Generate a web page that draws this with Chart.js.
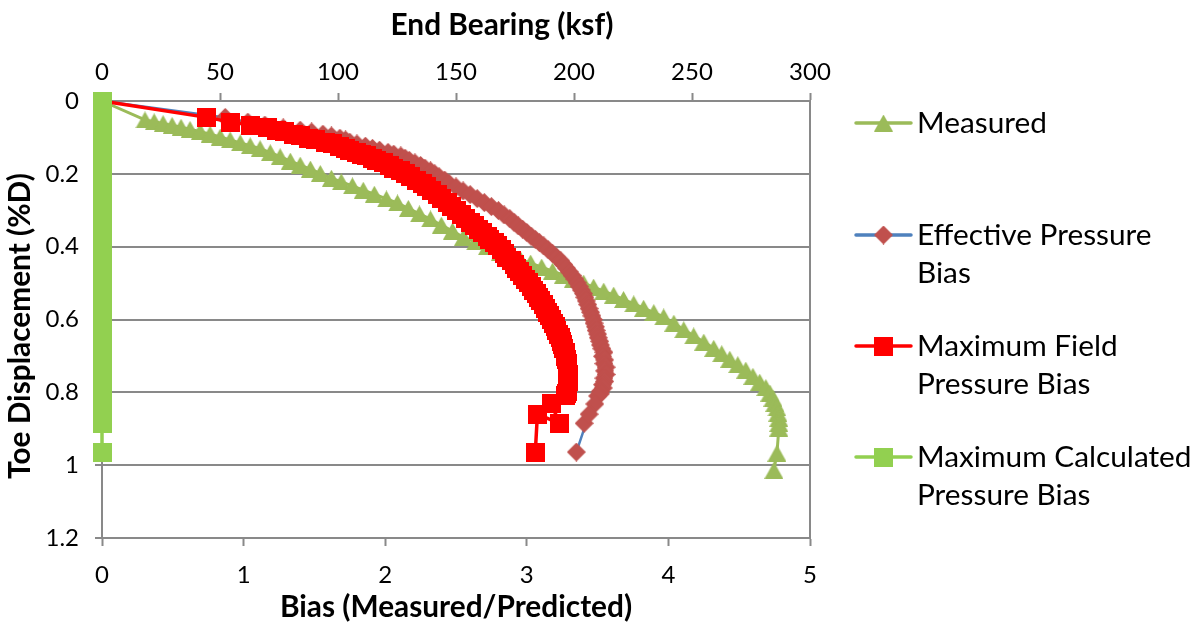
<!DOCTYPE html>
<html>
<head>
<meta charset="utf-8">
<title>End Bearing and Bias vs Toe Displacement</title>
<script src="https://cdn.jsdelivr.net/npm/chart.js"></script>
<style>
  html, body { margin: 0; padding: 0; background: #ffffff; }
  #wrap { width: 1201px; height: 631px; position: relative; }
</style>
</head>
<body>
<div id="wrap"><canvas id="chart" width="1201" height="631"></canvas></div>
<script>
// ---- data ----
const seriesNames = ['Measured', 'Effective Pressure Bias', 'Maximum Field Pressure Bias', 'Maximum Calculated Pressure Bias'];

// measured load test: toe displacement (%D) and end bearing (ksf)
const measuredDisp = [0, 0.052, 0.057, 0.062, 0.067, 0.072, 0.078, 0.084, 0.091, 0.099, 0.107, 0.115, 0.123, 0.131, 0.142, 0.153, 0.165, 0.176, 0.187, 0.199, 0.212, 0.222, 0.233, 0.245, 0.256, 0.269, 0.280, 0.295, 0.310, 0.324, 0.341, 0.357, 0.374, 0.387, 0.400, 0.415, 0.425, 0.435, 0.445, 0.456, 0.467, 0.478, 0.489, 0.500, 0.511, 0.522, 0.533, 0.545, 0.557, 0.569, 0.581, 0.593, 0.610, 0.628, 0.645, 0.662, 0.679, 0.694, 0.709, 0.724, 0.739, 0.756, 0.772, 0.787, 0.802, 0.816, 0.830, 0.843, 0.857, 0.871, 0.885, 0.898, 0.967, 1.014];
const measuredBearing = [0, 18.2, 22.1, 25.9, 29.7, 33.5, 37.3, 41.6, 45.8, 50.1, 54.3, 58.6, 62.8, 67.0, 71.3, 75.5, 79.8, 84.0, 88.3, 92.5, 97.2, 101.4, 106.1, 110.7, 115.4, 120.5, 125.2, 129.8, 134.5, 139.2, 143.8, 148.5, 153.2, 158.3, 163.3, 168.9, 173.1, 177.3, 181.6, 186.3, 190.9, 195.6, 199.8, 204.1, 208.3, 212.6, 216.8, 221.0, 225.3, 229.5, 233.8, 238.0, 242.3, 246.5, 250.7, 255.0, 259.2, 262.6, 266.0, 269.4, 272.8, 275.8, 278.7, 281.3, 283.0, 284.3, 285.1, 286.0, 286.4, 286.8, 286.8, 286.8, 286.0, 284.7];

// toe displacement (%D) at which the bias ratios were evaluated
const biasDisp = [0, 0.045, 0.058, 0.066, 0.074, 0.080, 0.085, 0.091, 0.096, 0.102, 0.107, 0.113, 0.118, 0.124, 0.130, 0.135, 0.141, 0.146, 0.151, 0.157, 0.163, 0.170, 0.177, 0.184, 0.192, 0.200, 0.208, 0.217, 0.226, 0.236, 0.247, 0.257, 0.268, 0.279, 0.290, 0.301, 0.313, 0.323, 0.333, 0.343, 0.352, 0.361, 0.371, 0.380, 0.389, 0.398, 0.408, 0.418, 0.429, 0.439, 0.449, 0.459, 0.469, 0.479, 0.489, 0.499, 0.509, 0.519, 0.529, 0.539, 0.549, 0.559, 0.570, 0.580, 0.590, 0.600, 0.610, 0.620, 0.630, 0.640, 0.650, 0.660, 0.670, 0.680, 0.690, 0.701, 0.711, 0.721, 0.731, 0.741, 0.751, 0.761, 0.770, 0.779, 0.788, 0.797, 0.804, 0.810, 0.832, 0.885, 0.860, 0.964];
const effectiveBias = [0, 0.87, 1.03, 1.15, 1.28, 1.40, 1.48, 1.56, 1.62, 1.68, 1.72, 1.75, 1.80, 1.86, 1.91, 1.96, 2.02, 2.06, 2.11, 2.14, 2.17, 2.21, 2.25, 2.28, 2.32, 2.35, 2.38, 2.42, 2.45, 2.50, 2.55, 2.60, 2.65, 2.70, 2.75, 2.80, 2.84, 2.88, 2.91, 2.94, 2.97, 3.00, 3.03, 3.06, 3.09, 3.12, 3.15, 3.18, 3.21, 3.24, 3.26, 3.28, 3.30, 3.32, 3.34, 3.355, 3.37, 3.385, 3.40, 3.41, 3.42, 3.43, 3.44, 3.45, 3.46, 3.47, 3.475, 3.485, 3.49, 3.50, 3.505, 3.515, 3.52, 3.53, 3.545, 3.535, 3.55, 3.545, 3.56, 3.55, 3.56, 3.545, 3.55, 3.535, 3.54, 3.52, 3.52, 3.50, 3.48, 3.405, 3.44, 3.35];
const fieldBias = [0, 0.74, 0.91, 1.05, 1.17, 1.23, 1.29, 1.35, 1.40, 1.46, 1.51, 1.58, 1.63, 1.68, 1.72, 1.75, 1.80, 1.83, 1.87, 1.91, 1.94, 1.99, 2.03, 2.06, 2.11, 2.14, 2.18, 2.22, 2.26, 2.29, 2.33, 2.37, 2.40, 2.44, 2.47, 2.50, 2.54, 2.57, 2.60, 2.63, 2.66, 2.69, 2.72, 2.74, 2.77, 2.79, 2.82, 2.84, 2.86, 2.89, 2.91, 2.93, 2.95, 2.97, 2.99, 3.01, 3.03, 3.05, 3.065, 3.08, 3.10, 3.115, 3.13, 3.145, 3.16, 3.175, 3.19, 3.20, 3.21, 3.225, 3.235, 3.245, 3.255, 3.26, 3.27, 3.275, 3.28, 3.285, 3.29, 3.29, 3.295, 3.295, 3.295, 3.29, 3.29, 3.285, 3.28, 3.275, 3.175, 3.23, 3.075, 3.06];
const calculatedBias = [0, 0, 0, 0, 0, 0, 0, 0, 0, 0, 0, 0, 0, 0, 0, 0, 0, 0, 0, 0, 0, 0, 0, 0, 0, 0, 0, 0, 0, 0, 0, 0, 0, 0, 0, 0, 0, 0, 0, 0, 0, 0, 0, 0, 0, 0, 0, 0, 0, 0, 0, 0, 0, 0, 0, 0, 0, 0, 0, 0, 0, 0, 0, 0, 0, 0, 0, 0, 0, 0, 0, 0, 0, 0, 0, 0, 0, 0, 0, 0, 0, 0, 0, 0, 0, 0, 0, 0, 0, 0, 0, 0];

// axis ticks
const biasTicks = [0, 1, 2, 3, 4, 5];
const bearingTicks = [0, 50, 100, 150, 200, 250, 300];
const dispTicks = [0, 0.2, 0.4, 0.6, 0.8, 1, 1.2];

// ---- styling ----
const AXIS_GRAY = '#898989';
const TICK_FONT = { family: 'Lato', size: 24 };
const TITLE_FONT = 'bold 29.8px Lato';
const LEGEND_FONT = '29.8px Lato';

function makeMarker(shape, w, h, color) {
  const c = document.createElement('canvas');
  c.width = w; c.height = h;
  const g = c.getContext('2d');
  g.fillStyle = color;
  g.beginPath();
  if (shape === 'triangle') {
    g.moveTo(w / 2, 0); g.lineTo(w, h); g.lineTo(0, h);
  } else if (shape === 'diamond') {
    g.moveTo(w / 2, 0); g.lineTo(w, h / 2); g.lineTo(w / 2, h); g.lineTo(0, h / 2);
  } else {
    g.rect(0, 0, w, h);
  }
  g.closePath();
  g.fill();
  return c;
}

const triangleMark = makeMarker('triangle', 19, 17, '#9BBB59');
const diamondMark = makeMarker('diamond', 19, 19, '#C0504D');
const redSquareMark = makeMarker('square', 19, 19, '#FF0000');
const greenSquareMark = makeMarker('square', 19, 19, '#92D050');

const pairs = (xs, ys) => ys.map((y, i) => ({ x: xs[i], y: y }));

function fixedTicks(list) {
  return function (scale) { scale.ticks = list.map(v => ({ value: v })); };
}

// axis titles and the legend block on the right
const decorations = {
  id: 'decorations',
  afterDraw(chart) {
    const ctx = chart.ctx;
    const area = chart.chartArea;
    ctx.save();
    ctx.fillStyle = '#000000';
    ctx.textBaseline = 'alphabetic';

    ctx.font = TITLE_FONT;
    ctx.textAlign = 'center';
    ctx.fillText('End Bearing (ksf)', 502, 35);
    ctx.fillText('Bias (Measured/Predicted)', (area.left + area.right) / 2, 617);
    ctx.save();
    ctx.translate(30, 326);
    ctx.rotate(-Math.PI / 2);
    ctx.fillText('Toe Displacement (%D)', 0, 0);
    ctx.restore();

    const entries = [
      { ds: 0, lines: ['Measured'], y: 123 },
      { ds: 1, lines: ['Effective Pressure', 'Bias'], y: 235 },
      { ds: 2, lines: ['Maximum Field', 'Pressure Bias'], y: 346 },
      { ds: 3, lines: ['Maximum Calculated', 'Pressure Bias'], y: 457 }
    ];
    ctx.font = LEGEND_FONT;
    ctx.textAlign = 'left';
    entries.forEach(e => {
      const ds = chart.data.datasets[e.ds];
      ctx.strokeStyle = ds.borderColor;
      ctx.lineWidth = 3.5;
      ctx.lineCap = 'round';
      ctx.beginPath();
      ctx.moveTo(856, e.y);
      ctx.lineTo(911, e.y);
      ctx.stroke();
      const m = ds.pointStyle;
      ctx.drawImage(m, 883.5 - m.width / 2, e.y - m.height / 2);
      e.lines.forEach((t, k) => ctx.fillText(t, 917, e.y + 10 + k * 38));
    });
    ctx.restore();
  }
};

new Chart(document.getElementById('chart'), {
  type: 'scatter',
  data: {
    datasets: [
      {
        label: seriesNames[0],
        data: pairs(measuredBearing, measuredDisp),
        xAxisID: 'xTop', yAxisID: 'y',
        showLine: true, borderColor: '#9BBB59', borderWidth: 3,
        pointStyle: triangleMark, pointRadius: 10,
        order: 4, clip: false
      },
      {
        label: seriesNames[1],
        data: pairs(effectiveBias, biasDisp),
        xAxisID: 'x', yAxisID: 'y',
        showLine: true, borderColor: '#4F81BD', borderWidth: 2.5,
        pointStyle: diamondMark, pointRadius: 10,
        order: 3, clip: false
      },
      {
        label: seriesNames[2],
        data: pairs(fieldBias, biasDisp),
        xAxisID: 'x', yAxisID: 'y',
        showLine: true, borderColor: '#FF0000', borderWidth: 3.5,
        pointStyle: redSquareMark, pointRadius: 10,
        order: 2, clip: false
      },
      {
        label: seriesNames[3],
        data: pairs(calculatedBias, biasDisp),
        xAxisID: 'x', yAxisID: 'y',
        showLine: true, borderColor: '#92D050', borderWidth: 3.5,
        pointStyle: greenSquareMark, pointRadius: 10,
        order: 1, clip: false
      }
    ]
  },
  options: {
    responsive: false,
    animation: false,
    events: [],
    layout: { padding: { left: 0, top: 0, right: 391, bottom: 0 }, autoPadding: false },
    elements: { line: { tension: 0, borderJoinStyle: 'round' } },
    plugins: { legend: { display: false }, tooltip: { enabled: false } },
    scales: {
      x: {
        type: 'linear', position: 'bottom', min: 0, max: 5,
        afterBuildTicks: fixedTicks(biasTicks),
        afterFit: s => { s.height = 93; },
        grid: { drawOnChartArea: false, drawTicks: true, tickLength: 8, tickColor: AXIS_GRAY, tickWidth: 2 },
        border: { display: true, color: AXIS_GRAY, width: 2 },
        ticks: { font: TICK_FONT, color: '#000000', padding: 15, maxRotation: 0, autoSkip: false, callback: v => String(v) }
      },
      xTop: {
        type: 'linear', position: 'top', min: 0, max: 300,
        afterBuildTicks: fixedTicks(bearingTicks),
        afterFit: s => { s.height = 101; },
        grid: { drawOnChartArea: false, drawTicks: true, tickLength: 8, tickColor: AXIS_GRAY, tickWidth: 2 },
        border: { display: true, color: AXIS_GRAY, width: 2 },
        ticks: { font: TICK_FONT, color: '#000000', padding: 6, maxRotation: 0, autoSkip: false, callback: v => String(v) }
      },
      y: {
        type: 'linear', position: 'left', reverse: true, min: 0, max: 1.2,
        afterBuildTicks: fixedTicks(dispTicks),
        afterFit: s => { s.width = 102; },
        grid: { color: AXIS_GRAY, lineWidth: 2, drawTicks: true, tickLength: 7, tickColor: AXIS_GRAY, tickWidth: 2 },
        border: { display: true, color: AXIS_GRAY, width: 2 },
        ticks: { font: TICK_FONT, color: '#000000', padding: 16, autoSkip: false, callback: v => String(v) }
      },
      yRight: {
        type: 'linear', position: 'right', min: 0, max: 1.2,
        afterFit: s => { s.width = 0; },
        grid: { drawOnChartArea: false, drawTicks: false },
        border: { display: true, color: AXIS_GRAY, width: 2 },
        ticks: { display: false }
      }
    }
  },
  plugins: [decorations]
});
</script>
</body>
</html>
